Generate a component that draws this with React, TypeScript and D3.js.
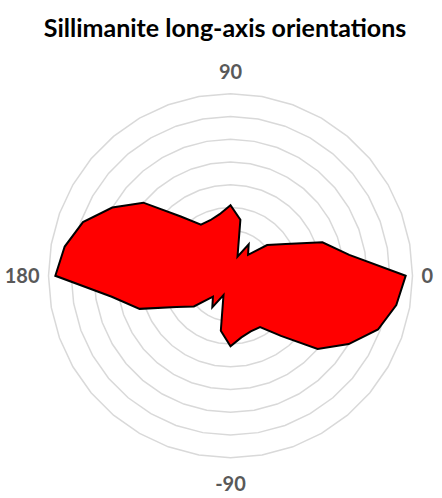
import * as d3 from "d3";

// orientation categories in degrees, counter-clockwise from east
const angles = [
  0, 10, 20, 30, 40, 50, 60, 70, 80, 90, 100, 110, 120, 130, 140, 150, 160, 170,
  180, 190, 200, 210, 220, 230, 240, 250, 260, 270, 280, 290, 300, 310, 320, 330, 340, 350,
];

// frequency for each orientation bin
const counts = [
  7.7, 5.3, 4.3, 2.8, 2.1, 1.2, 1.6, 0.9, 2.5, 3.1, 2.75, 2.6, 2.6, 3.4, 5.0, 6.0, 6.9, 7.4,
  7.7, 5.3, 4.25, 2.75, 2.1, 1.2, 1.6, 0.9, 2.45, 3.1, 2.75, 2.6, 2.6, 3.45, 5.0, 6.0, 6.9, 7.4,
];

const gridValues = [1, 2, 3, 4, 5, 6, 7, 8];

const labelAngles = [0, 90, 180, 270];
const labelTexts = ["0", "90", "180", "-90"];

const width = 442;
const height = 498;
const cx = 230.5;
const cy = 275.8;
const outer = 182;

const FONT = "Lato, 'Open Sans', sans-serif";

export default function App() {
  const r = d3.scaleLinear().domain([0, 8]).range([0, outer]);
  // d3 radial angle: 0 at top, clockwise
  const toRad = (deg: number) => ((90 - deg) * Math.PI) / 180;

  const ring = (v: number) =>
    d3
      .lineRadial<number>()
      .angle((a) => toRad(a))
      .radius(() => r(v))
      .curve(d3.curveLinearClosed)(angles) as string;

  const area = d3
    .lineRadial<number>()
    .angle((_, i) => toRad(angles[i]))
    .radius((d) => r(d))
    .curve(d3.curveLinearClosed)(counts) as string;

  const labelPos = (deg: number) => {
    const x = Math.cos((deg * Math.PI) / 180);
    const y = -Math.sin((deg * Math.PI) / 180);
    if (Math.abs(y) < 0.01) {
      return {
        x: cx + x * (outer + 9),
        y: cy + 7,
        anchor: x > 0 ? "start" : "end",
      };
    }
    return {
      x: cx,
      y: y < 0 ? cy - outer - 15 : cy + outer + 33,
      anchor: "middle",
    };
  };

  return (
    <svg
      width={width}
      height={height}
      style={{ position: "absolute", left: 0, top: 0, background: "#fff" }}
    >
      <text
        x={225}
        y={37}
        textAnchor="middle"
        fontFamily={FONT}
        fontWeight="bold"
        fontSize={25}
        fill="#000"
      >
        Sillimanite long-axis orientations
      </text>
      <g transform={`translate(${cx},${cy})`}>
        {gridValues.map((v) => (
          <path key={v} d={ring(v)} fill="none" stroke="#d9d9d9" strokeWidth={1.5} />
        ))}
        <path d={area} fill="#ff0000" stroke="#000" strokeWidth={2} strokeLinejoin="miter" />
      </g>
      {labelAngles.map((a, i) => {
        const p = labelPos(a);
        return (
          <text
            key={a}
            x={p.x}
            y={p.y}
            textAnchor={p.anchor}
            fontFamily={FONT}
            fontWeight="bold"
            fontSize={20}
            fill="#595959"
          >
            {labelTexts[i]}
          </text>
        );
      })}
    </svg>
  );
}
